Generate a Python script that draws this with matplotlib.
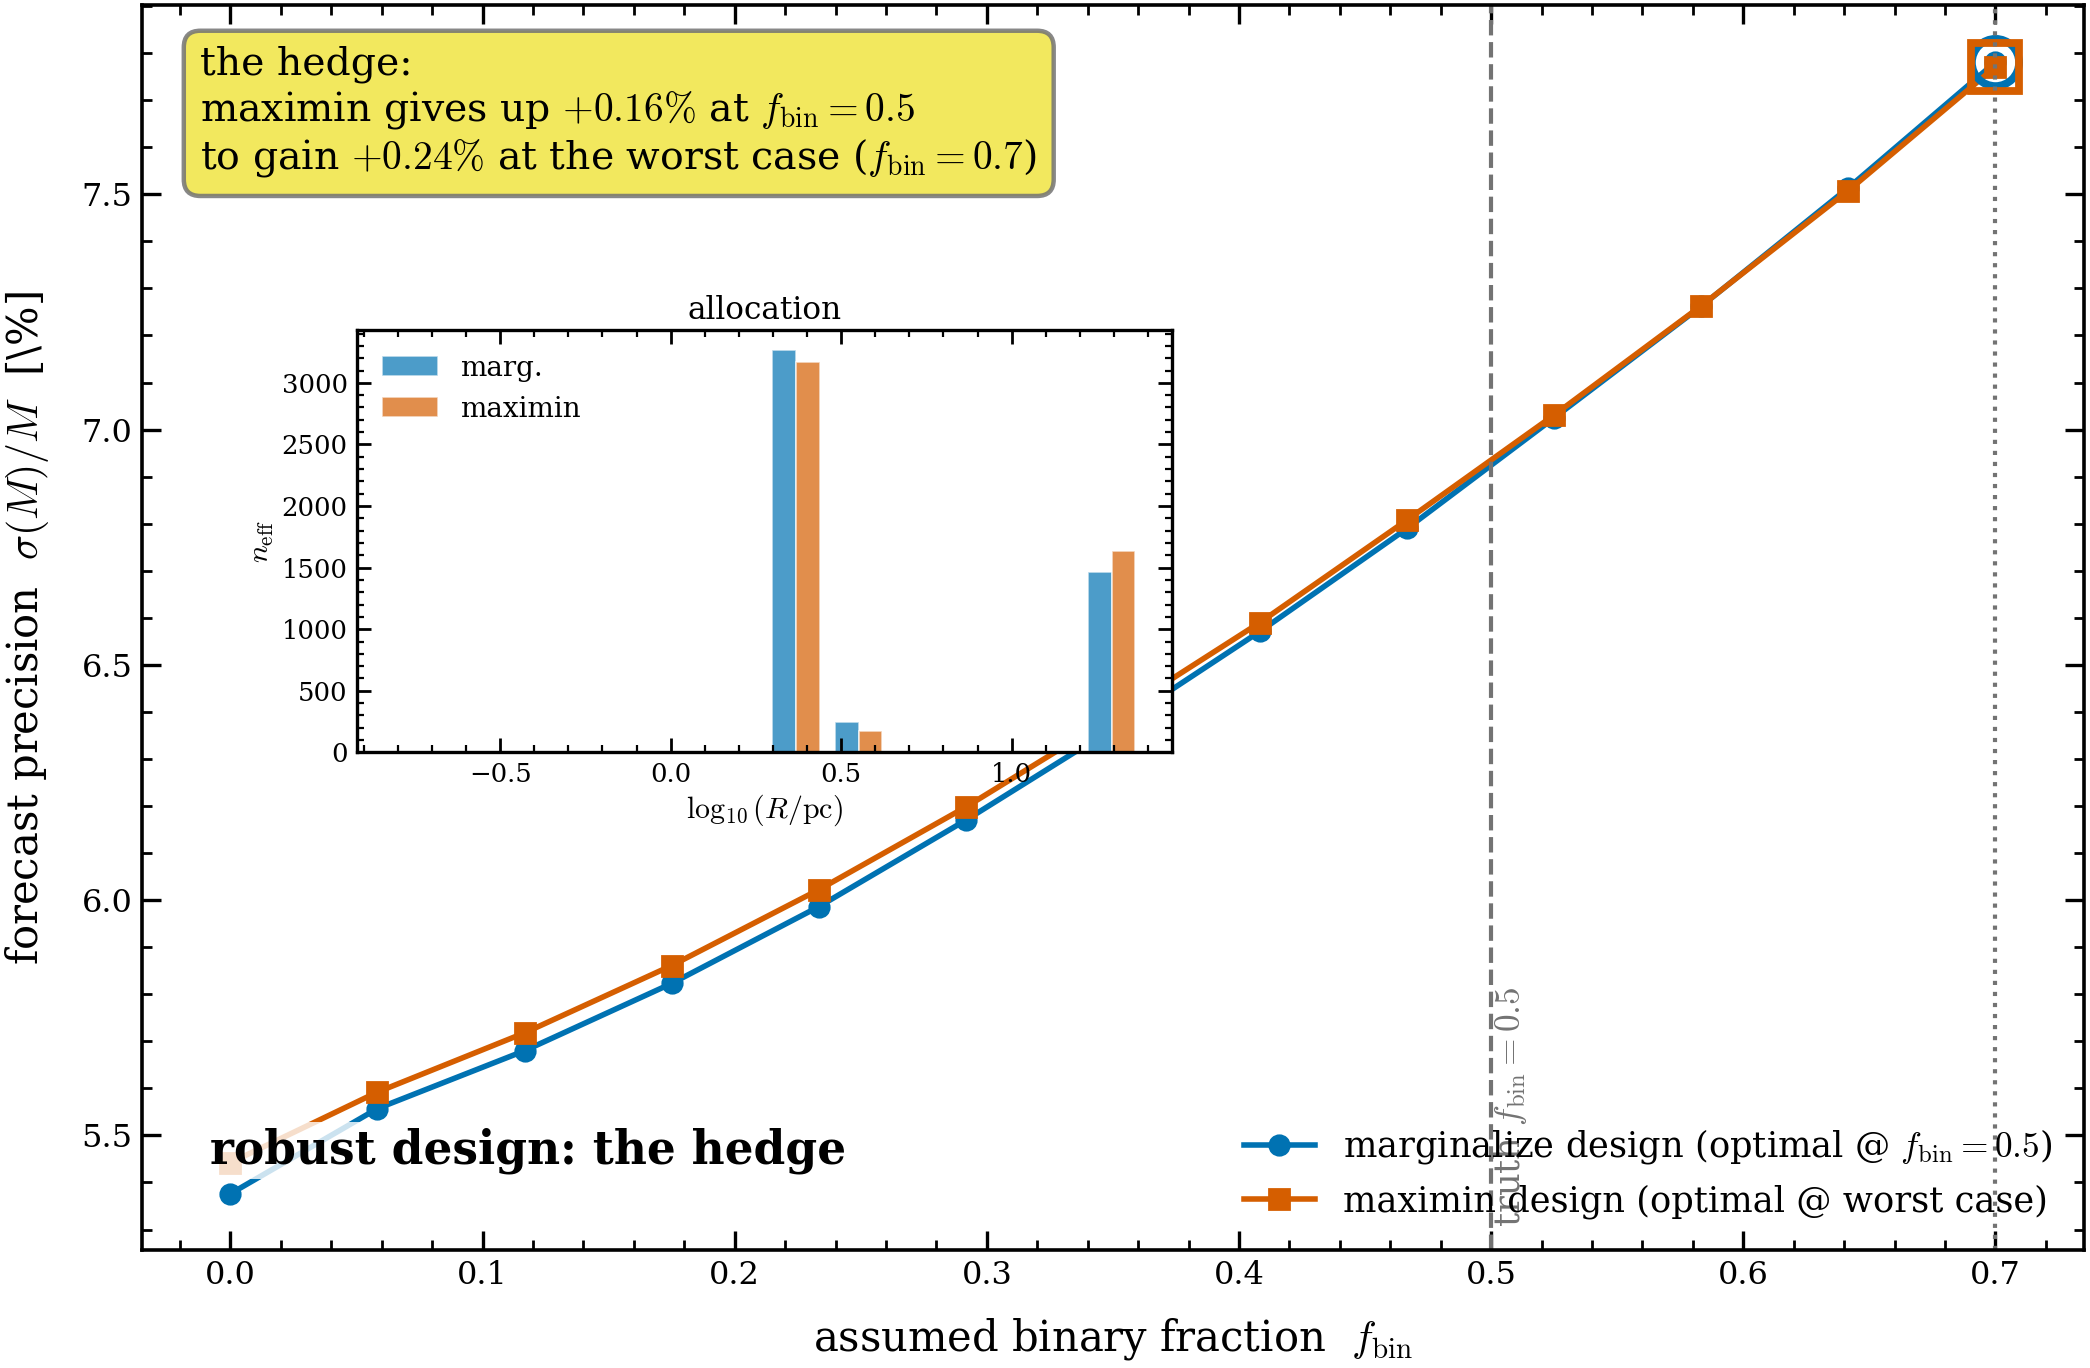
import matplotlib
matplotlib.use("Agg")
import matplotlib.pyplot as plt
from matplotlib.ticker import MultipleLocator

plt.rcParams["font.family"] = "DejaVu Serif"
plt.rcParams["mathtext.fontset"] = "cm"

# main curves: forecast precision vs assumed binary fraction
f_bin = [0.0, 0.0583, 0.1167, 0.175, 0.2333, 0.2917, 0.35,
         0.4083, 0.4667, 0.525, 0.5833, 0.6417, 0.7]
prec_marg = [5.376, 5.557, 5.680, 5.823, 5.986, 6.170, 6.365,
             6.571, 6.790, 7.025, 7.262, 7.514, 7.781]
prec_maximin = [5.442, 5.592, 5.718, 5.861, 6.022, 6.198, 6.390,
                6.590, 6.808, 7.031, 7.263, 7.508, 7.771]

# inset: allocation per radius bin
log_r = [-0.74, -0.555, -0.37, -0.185, 0.0, 0.183, 0.367,
         0.551, 0.736, 0.92, 1.105, 1.293]
n_marg = [0, 0, 0, 0, 0, 0, 3268, 249, 0, 0, 0, 1461]
n_maximin = [0, 0, 0, 0, 0, 0, 3171, 173, 0, 0, 0, 1634]

c_blue = "#0072B2"
c_orange = "#D55E00"

fig = plt.figure(figsize=(10.45, 6.84), dpi=200)
ax = fig.add_axes([0.068, 0.086, 0.929, 0.910])

ax.plot(f_bin, prec_marg, "-o", color=c_blue, lw=2, ms=7,
        label=r"marginalize design (optimal @ $f_{\rm bin}=0.5$)")
ax.plot(f_bin, prec_maximin, "-s", color=c_orange, lw=2, ms=7,
        label=r"maximin design (optimal @ worst case)")
ax.plot(f_bin[-1], prec_marg[-1], "o", ms=17, mfc="none", mec=c_blue, mew=2.8)
ax.plot(f_bin[-1], prec_maximin[-1], "s", ms=17, mfc="none", mec=c_orange, mew=2.8)

ax.axvline(0.5, color="0.45", ls="--", lw=1.5)
ax.axvline(0.7, color="0.45", ls=":", lw=1.5)
ax.text(0.5, 5.305, r"truth $f_{\rm bin} = 0.5$", rotation=90, color="0.45",
        fontsize=12.7, ha="left", va="bottom")

ax.set_xlabel(r"assumed binary fraction  $f_{\rm bin}$", fontsize=15, labelpad=9)
ax.set_ylabel(r"forecast precision  $\sigma(M)/M$  [\%]", fontsize=15, labelpad=11)

ax.tick_params(which="both", direction="in", top=True, right=True, labelsize=11.5)
ax.tick_params(which="major", length=7, width=1.2)
ax.tick_params(which="minor", length=3.5, width=1.0)
ax.xaxis.set_minor_locator(MultipleLocator(0.02))
ax.yaxis.set_minor_locator(MultipleLocator(0.1))
for s in ax.spines.values():
    s.set_linewidth(1.3)

ax.legend(loc="lower right", frameon=False, fontsize=12.7)

ax.text(0.03, 0.968,
        "the hedge:\n"
        r"maximin gives up $+0.16\%$ at $f_{\rm bin}=0.5$" "\n"
        r"to gain $+0.24\%$ at the worst case ($f_{\rm bin}=0.7$)",
        transform=ax.transAxes, va="top", ha="left", fontsize=14.2,
        bbox=dict(boxstyle="round,pad=0.42", fc="#F0E442", ec="0.45",
                  alpha=0.85, lw=1.6))

ax.text(0.035, 0.08, "robust design: the hedge", transform=ax.transAxes,
        fontsize=16.4, fontweight="bold", va="center", ha="left",
        bbox=dict(fc="white", ec="none", alpha=0.8, pad=2))

# inset
axi = fig.add_axes([0.171, 0.450, 0.390, 0.309])
w = 0.07
axi.bar([x - w / 2 for x in log_r], n_marg, width=w, color=c_blue, alpha=0.7,
        edgecolor="white", lw=0.6, label="marg.")
axi.bar([x + w / 2 for x in log_r], n_maximin, width=w, color=c_orange, alpha=0.7,
        edgecolor="white", lw=0.6, label="maximin")
axi.set_title("allocation", fontsize=11.2, pad=4)
axi.set_xlabel(r"$\log_{10}(R/{\rm pc})$", fontsize=10.8, labelpad=2)
axi.set_ylabel(r"$n_{\rm eff}$", fontsize=10.8, labelpad=2)
axi.tick_params(which="both", direction="in", top=True, right=True, labelsize=9.3)
axi.tick_params(which="major", length=5, width=1.0)
axi.tick_params(which="minor", length=2.5, width=0.8)
axi.xaxis.set_minor_locator(MultipleLocator(0.1))
axi.yaxis.set_minor_locator(MultipleLocator(100))
for s in axi.spines.values():
    s.set_linewidth(1.2)
axi.legend(loc="upper left", frameon=False, fontsize=10)

fig.savefig("out.png", dpi=200)
